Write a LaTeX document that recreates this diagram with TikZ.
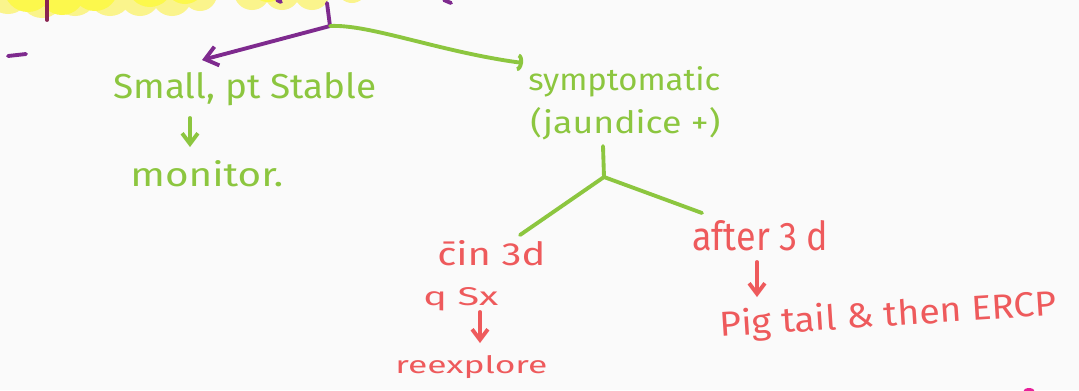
\documentclass[tikz,border=0pt]{standalone}
\usepackage{fontspec}
\setmainfont{Fira Sans}
\usetikzlibrary{arrows.meta}
\definecolor{bgc}{HTML}{FAFAFA}
\definecolor{hgreen}{HTML}{8CC63F}
\definecolor{hpurple}{HTML}{7E2A8E}
\definecolor{hred}{HTML}{EE5A5C}
\definecolor{hmaroon}{HTML}{8A2450}
\definecolor{hyellow}{HTML}{FCF84C}
\definecolor{hyellowlt}{HTML}{FAF48C}
\definecolor{hpink}{HTML}{E8209A}
\newlength\pxu \setlength\pxu{0.02cm}
% set a line of text to a given width and height (in picture units)
\newcommand\fitwh[3]{\resizebox{#1\pxu}{#2\pxu}{#3}}
\tikzset{
  pen/.style={line width=2.2pt, line cap=round, line join=round},
  gline/.style={pen, draw=hgreen},
  pline/.style={pen, draw=hpurple},
  rline/.style={pen, draw=hred},
  gtext/.style={text=hgreen, inner sep=0pt, anchor=base west},
  rtext/.style={text=hred, inner sep=0pt, anchor=base west},
  downtip/.style={-{Straight Barb[length=6pt,width=9pt]}},
}
\begin{document}
\begin{tikzpicture}[x=0.02cm,y=-0.02cm]
\fill[bgc] (0,0) rectangle (1079,390);
\useasboundingbox (0,0) rectangle (1079,390);

% highlighter strokes along the top edge
\begin{scope}
  \clip (0,0) rectangle (1079,390);
  \foreach \cx/\cy/\r in {8/-8/22, 42/-4/22, 75/-6/22, 110/-6/22, 140/-4/20, 172/-4/20,
                          200/-6/17, 252/-8/18, 282/-8/18, 312/-8/18, 352/-12/15}
    \fill[hyellowlt] (\cx,\cy) circle [radius=\r];
  \foreach \cx/\cy/\r in {28/-12/24, 62/-8/23, 95/-12/23, 150/-16/23,
                          185/-16/20, 268/-16/18}
    \fill[hyellow] (\cx,\cy) circle [radius=\r];
  \draw[pen, draw=hmaroon] (47,0) -- (47,20);
  \draw[pline] (277,0) -- (281,2);
  \draw[pline] (444,0) -- (451,3);
  \fill[hpink] (1029,392) ellipse [x radius=6, y radius=4];
\end{scope}
\draw[pline] (8,56) -- (26,54);

% text, placed by the left end of its baseline
\node[gtext] (small)   at (113,98)  {\fitwh{263}{26}{Small, pt Stable}};
\node[gtext] (monitor) at (130,186) {\fitwh{153}{26}{monitor.}};
\node[gtext] (symp)    at (528,90)  {\fitwh{192}{24}{symptomatic}};
\node[gtext] (jaund)   at (530,133) {\fitwh{190}{26}{(jaundice +)}};
\node[rtext] (within)  at (437,265) {\fitwh{108}{25}{\={c}in 3d}};
\node[rtext] (qsx)     at (423,305) {\fitwh{75}{18}{q Sx}};
\node[rtext] (reexp)   at (395,373) {\fitwh{152}{18}{reexplore}};
\node[rtext] (after)   at (692,250) {\fitwh{136}{30}{after 3 d}};
\node[rtext, rotate=3.7] (pig) at (720,337) {\fitwh{338}{27}{Pig tail \& then ERCP}};

% connector ends
\coordinate (ptop)  at (327,3);
\coordinate (pjoin) at (330,26);
\coordinate (ptip)  at (202,60);
\coordinate (stip)  at (523,63);
\coordinate (mtop)  at (190,118);
\coordinate (mbot)  at (190,147);
\coordinate (jstem) at (603,146);
\coordinate (fork)  at (604,177);
\coordinate (wend)  at (520,235);
\coordinate (aend)  at (702,213);
\coordinate (qtop)  at (480,312);
\coordinate (qbot)  at (480,343);
\coordinate (atop)  at (757,262);
\coordinate (abot)  at (757,297);

% connectors
\draw[pline, -{Straight Barb[length=7pt,width=11pt]}] (ptop) -- (pjoin) -- (ptip);
\draw[gline, -{Arc Barb[length=3pt,width=10pt]}] (pjoin) .. controls (370,24) and (440,52) .. (stip);
\draw[gline, downtip] (mtop) -- (mbot);
\draw[gline] (jstem) -- (fork) -- (wend);
\draw[gline] (fork) -- (aend);
\draw[rline, downtip] (qtop) -- (qbot);
\draw[rline, downtip] (atop) -- (abot);
\end{tikzpicture}
\end{document}
